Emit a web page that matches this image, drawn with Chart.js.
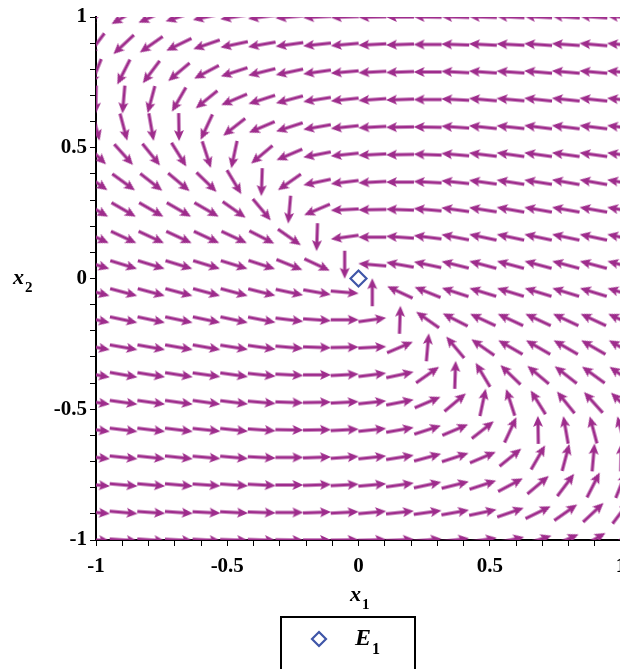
<!DOCTYPE html>
<html>
<head>
<meta charset="utf-8">
<title>Direction field near E1</title>
<script src="https://cdn.jsdelivr.net/npm/chart.js@4.4.0/dist/chart.umd.min.js"></script>
<style>
  html, body { margin: 0; padding: 0; background: #fff; overflow: hidden; }
  #wrap { width: 620px; height: 669px; overflow: hidden; position: relative; }
  canvas { display: block; }
</style>
</head>
<body>
<div id="wrap"><canvas id="fieldChart" width="660" height="669"></canvas></div>
<script>
// grid of the field plot (20 x 20 points)
const x1Grid = [-1, -0.8947, -0.7895, -0.6842, -0.5789, -0.4737, -0.3684, -0.2632, -0.1579, -0.0526,
  0.0526, 0.1579, 0.2632, 0.3684, 0.4737, 0.5789, 0.6842, 0.7895, 0.8947, 1];
const x2Grid = [1, 0.8947, 0.7895, 0.6842, 0.5789, 0.4737, 0.3684, 0.2632, 0.1579, 0.0526,
  -0.0526, -0.1579, -0.2632, -0.3684, -0.4737, -0.5789, -0.6842, -0.7895, -0.8947, -1];

// arrow direction in degrees (counter-clockwise from +x1), one row per x2 value
const dirRow00 = [219, 210, 204, 198, 192, 189, 187, 185, 183, 182, 181, 180, 179, 178, 178, 177, 177, 176, 176, 176];
const dirRow01 = [233, 223, 215, 206, 199, 192, 190, 188, 186, 185, 183, 182, 180, 178, 177, 177, 176, 176, 175, 175];
const dirRow02 = [248, 243, 233, 220, 208, 198, 194, 192, 188, 185, 183, 182, 180, 177, 176, 176, 175, 175, 175, 175];
const dirRow03 = [269, 265, 255, 240, 219, 203, 198, 195, 189, 186, 184, 182, 180, 177, 175, 175, 174, 174, 174, 174];
const dirRow04 = [285, 285, 280, 271, 245, 218, 203, 198, 190, 186, 183, 181, 179, 176, 174, 174, 173, 173, 173, 173];
const dirRow05 = [316, 312, 309, 302, 288, 258, 220, 203, 191, 186, 183, 181, 178, 175, 173, 172, 172, 172, 172, 172];
const dirRow06 = [325, 324, 322, 320, 316, 301, 268, 215, 192, 187, 183, 180, 177, 174, 172, 171, 171, 170, 170, 170];
const dirRow07 = [330, 330, 330, 330, 330, 325, 310, 265, 203, 183, 181, 178, 175, 172, 171, 170, 170, 170, 170, 170];
const dirRow08 = [335, 335, 335, 335, 335, 335, 333, 325, 268, 188, 180, 176, 173, 169, 168, 168, 168, 168, 168, 168];
const dirRow09 = [343, 343, 343, 343, 343, 343, 342, 338, 335, 270, 175, 170, 168, 166, 165, 165, 165, 165, 165, 165];
const dirRow10 = [345, 345, 345, 345, 345, 345, 346, 348, 350, 355, 90, 155, 158, 162, 163, 163, 163, 163, 163, 163];
const dirRow11 = [348, 348, 348, 348, 348, 348, 349, 353, 356, 0, 8, 88, 145, 153, 155, 155, 155, 155, 155, 155];
const dirRow12 = [350, 350, 350, 350, 350, 351, 352, 355, 358, 1, 3, 23, 85, 130, 145, 150, 150, 150, 150, 150];
const dirRow13 = [350, 350, 351, 351, 352, 352, 354, 357, 0, 3, 7, 12, 35, 88, 121, 136, 140, 142, 144, 145];
const dirRow14 = [352, 352, 352, 352, 352, 353, 355, 358, 1, 3, 6, 11, 23, 40, 78, 108, 122, 129, 132, 136];
const dirRow15 = [353, 353, 353, 353, 354, 354, 356, 359, 1, 3, 6, 10, 18, 23, 38, 65, 91, 100, 105, 105];
const dirRow16 = [354, 354, 354, 354, 355, 355, 357, 0, 2, 4, 6, 9, 15, 18, 23, 39, 60, 75, 85, 89];
const dirRow17 = [355, 355, 355, 355, 356, 356, 357, 0, 2, 3, 5, 8, 12, 14, 18, 28, 40, 53, 63, 68];
const dirRow18 = [355, 355, 356, 356, 357, 357, 358, 0, 2, 3, 5, 6, 8, 10, 12, 19, 26, 35, 43, 53];
const dirRow19 = [356, 356, 356, 357, 357, 358, 358, 359, 0, 1, 2, 3, 5, 7, 9, 12, 18, 24, 30, 39];

const dirRows = [dirRow00, dirRow01, dirRow02, dirRow03, dirRow04, dirRow05, dirRow06, dirRow07, dirRow08, dirRow09,
  dirRow10, dirRow11, dirRow12, dirRow13, dirRow14, dirRow15, dirRow16, dirRow17, dirRow18, dirRow19];

const equilibrium = [{x: 0, y: 0}];
const legendLabel = ['E', '1'];
const xTitle = ['x', '1'];
const yTitle = ['x', '2'];

const tickValues = [-1, -0.9, -0.8, -0.7, -0.6, -0.5, -0.4, -0.3, -0.2, -0.1, 0,
  0.1, 0.2, 0.3, 0.4, 0.5, 0.6, 0.7, 0.8, 0.9, 1];
const majorTicks = [-1, -0.5, 0, 0.5, 1];
const majorLabels = ['-1', '-0.5', '0', '0.5', '1'];

const arrowColor = 'rgb(158, 44, 140)';
const diamondColor = 'rgb(63, 86, 168)';
const serif = '"Liberation Serif", "Times New Roman", serif';

function makeArrow() {
  const c = document.createElement('canvas');
  c.width = 30;
  c.height = 12;
  const g = c.getContext('2d');
  g.strokeStyle = arrowColor;
  g.fillStyle = arrowColor;
  g.lineWidth = 3.1;
  g.beginPath();
  g.moveTo(1, 6);
  g.lineTo(21, 6);
  g.stroke();
  g.beginPath();
  g.moveTo(29, 6);
  g.lineTo(18, 1);
  g.lineTo(20.5, 6);
  g.lineTo(18, 11);
  g.closePath();
  g.fill();
  return c;
}

function tickLabel(value) {
  for (let i = 0; i < majorTicks.length; i++) {
    if (Math.abs(value - majorTicks[i]) < 1e-6) {
      return majorLabels[i];
    }
  }
  return '';
}

const arrowPoints = [];
const arrowAngles = [];
for (let r = 0; r < dirRows.length; r++) {
  for (let c = 0; c < dirRows[r].length; c++) {
    arrowPoints.push({x: x1Grid[c], y: x2Grid[r]});
    arrowAngles.push(dirRows[r][c]);
  }
}

function drawSubscripted(ctx, parts, x, y, size, italicMain) {
  ctx.font = (italicMain ? 'italic bold ' : 'bold ') + size + 'px ' + serif;
  ctx.fillText(parts[0], x, y);
  const w = ctx.measureText(parts[0]).width;
  ctx.font = 'bold ' + Math.round(size * 0.68) + 'px ' + serif;
  ctx.fillText(parts[1], x + w + 1, y + size * 0.38);
}

const textPlugin = {
  id: 'plotText',
  afterDraw(chart) {
    const ctx = chart.ctx;
    ctx.save();
    ctx.fillStyle = '#000';
    ctx.textBaseline = 'alphabetic';
    ctx.textAlign = 'left';

    drawSubscripted(ctx, xTitle, 350, 601, 22, true);
    drawSubscripted(ctx, yTitle, 13, 284, 22, true);

    // legend box
    ctx.strokeStyle = '#000';
    ctx.lineWidth = 2;
    ctx.strokeRect(281, 617, 134, 70);
    ctx.strokeStyle = diamondColor;
    ctx.lineWidth = 2.2;
    ctx.beginPath();
    ctx.moveTo(319, 632);
    ctx.lineTo(326, 639);
    ctx.lineTo(319, 646);
    ctx.lineTo(312, 639);
    ctx.closePath();
    ctx.stroke();
    ctx.fillStyle = '#000';
    drawSubscripted(ctx, legendLabel, 355, 645, 24, true);
    ctx.restore();
  }
};

const chart = new Chart(document.getElementById('fieldChart').getContext('2d'), {
  type: 'scatter',
  data: {
    datasets: [
      {
        label: 'E1',
        data: equilibrium,
        pointStyle: 'rectRot',
        pointRadius: 8,
        pointBorderWidth: 2.2,
        pointBorderColor: diamondColor,
        pointBackgroundColor: 'rgba(255,255,255,0)',
        order: 0
      },
      {
        label: 'field',
        data: arrowPoints,
        pointStyle: makeArrow(),
        pointRadius: 14,
        pointRotation: ctx => -arrowAngles[ctx.dataIndex],
        clip: 0,
        order: 1
      }
    ]
  },
  options: {
    responsive: false,
    animation: false,
    events: [],
    layout: { padding: { left: 0, top: 17, right: 39, bottom: 0 } },
    plugins: {
      legend: { display: false },
      tooltip: { enabled: false }
    },
    scales: {
      x: {
        type: 'linear',
        min: -1,
        max: 1,
        afterBuildTicks: axis => { axis.ticks = tickValues.map(v => ({value: v})); },
        afterFit: axis => { axis.height = 129; },
        ticks: {
          autoSkip: false,
          maxRotation: 0,
          padding: 8,
          color: '#000',
          font: { family: serif, size: 21, weight: 'bold' },
          callback: v => tickLabel(v)
        },
        grid: { drawOnChartArea: false, drawTicks: true, tickLength: 6, color: '#000', lineWidth: 1 },
        border: { display: true, color: '#000', width: 2 }
      },
      y: {
        type: 'linear',
        min: -1,
        max: 1,
        afterBuildTicks: axis => { axis.ticks = tickValues.map(v => ({value: v})); },
        afterFit: axis => { axis.width = 96; },
        ticks: {
          autoSkip: false,
          padding: 3,
          color: '#000',
          font: { family: serif, size: 21, weight: 'bold' },
          callback: v => tickLabel(v)
        },
        grid: { drawOnChartArea: false, drawTicks: true, tickLength: 6, color: '#000', lineWidth: 1 },
        border: { display: true, color: '#000', width: 2 }
      }
    }
  },
  plugins: [textPlugin]
});
</script>
</body>
</html>
